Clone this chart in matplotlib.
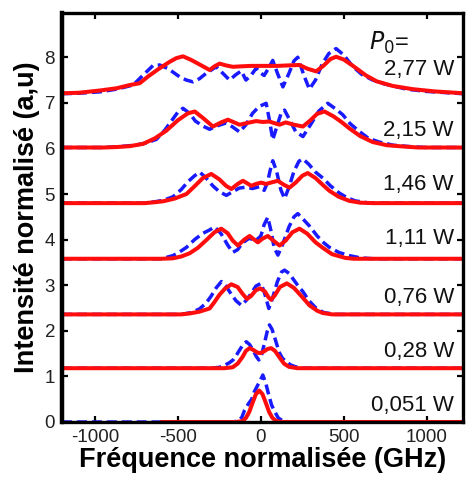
import matplotlib
matplotlib.use("Agg")
import matplotlib.pyplot as plt

plt.rcParams['font.family'] = ['Liberation Sans', 'DejaVu Sans']
plt.rcParams['axes.unicode_minus'] = False

# ---- data (relative intensity above each trace baseline) ----
power_labels = ["0,051 W", "0,28 W", "0,76 W", "1,11 W", "1,46 W", "2,15 W", "2,77 W"]
offsets = [0.0, 1.18, 2.36, 3.58, 4.80, 6.02, 7.20]
label_y = [0.37, 1.54, 2.74, 4.03, 5.20, 6.40, 7.72]

# 0,051 W
red_f_a = [-600, -150, -130, -110, -90, -70, -50, -30, -10, 10, 30, 50, 70, 90, 110, 130, 150, 1220]
red_v_a = [0, 0, 0.01, 0.02, 0.09, 0.22, 0.42, 0.61, 0.69, 0.61, 0.42, 0.22, 0.09, 0.03, 0.01, 0, 0, 0]
blue_f_a = [-1200, -170, -140, -115, -98, -75, -55, -40, -20, -5, 12, 30, 45, 65, 85, 105, 130, 170, 1220]
blue_v_a = [0, 0, 0.02, 0.1, 0.26, 0.4, 0.5, 0.66, 0.8, 0.9, 1.03, 0.85, 0.63, 0.37, 0.22, 0.09, 0.03, 0, 0]

# 0,28 W
red_f_b = [-1200, -220, -170, -140, -110, -90, -68, -45, -20, -4, 15, 40, 62, 85, 110, 140, 170, 220, 1220]
red_v_b = [0, 0, 0.02, 0.1, 0.25, 0.38, 0.44, 0.4, 0.34, 0.33, 0.36, 0.42, 0.44, 0.38, 0.25, 0.1, 0.03, 0, 0]
blue_f_b = [-1200, -300, -250, -220, -190, -168, -150, -128, -105, -88, -68, -48, -28, -12, 5, 22, 38, 52,
            68, 82, 98, 113, 130, 153, 180, 210, 260, 1220]
blue_v_b = [0, 0, 0.02, 0.06, 0.12, 0.18, 0.27, 0.4, 0.53, 0.58, 0.52, 0.4, 0.26, 0.18, 0.3, 0.55, 0.8, 0.95,
            0.85, 0.69, 0.5, 0.33, 0.22, 0.14, 0.07, 0.03, 0, 0]

# 0,76 W
red_f_c = [-1200, -480, -430, -370, -309, -280, -250, -215, -178, -140, -110, -84, -60, -30, -4, 25, 45, 62,
           85, 115, 157, 200, 250, 293, 340, 374, 430, 1220]
red_v_c = [0, 0, 0.02, 0.06, 0.13, 0.27, 0.43, 0.57, 0.66, 0.6, 0.45, 0.34, 0.4, 0.53, 0.57, 0.5, 0.38, 0.32,
           0.42, 0.6, 0.68, 0.58, 0.38, 0.2, 0.08, 0.03, 0, 0]
blue_f_c = [-1200, -480, -420, -370, -330, -300, -270, -238, -210, -180, -150, -118, -90, -60, -30, 0, 20, 48,
            70, 100, 125, 143, 170, 200, 230, 254, 290, 335, 380, 450, 1220]
blue_v_c = [0, 0, 0.04, 0.12, 0.25, 0.4, 0.58, 0.72, 0.62, 0.45, 0.3, 0.2, 0.3, 0.45, 0.62, 0.68, 0.5, 0.13,
            0.35, 0.72, 0.93, 0.97, 0.9, 0.75, 0.6, 0.5, 0.3, 0.13, 0.04, 0, 0]

# 1,11 W
red_f_d = [-1200, -600, -530, -480, -430, -380, -329, -280, -239, -200, -170, -138, -100, -68, -40, -18, 10,
           42, 75, 113, 150, 190, 233, 280, 330, 374, 430, 508, 560, 1220]
red_v_d = [0, 0, 0.01, 0.05, 0.12, 0.24, 0.41, 0.58, 0.66, 0.56, 0.4, 0.29, 0.42, 0.5, 0.42, 0.36, 0.44,
           0.5, 0.4, 0.29, 0.4, 0.58, 0.66, 0.55, 0.36, 0.24, 0.1, 0.02, 0, 0]
blue_f_d = [-1200, -600, -530, -490, -449, -400, -349, -310, -279, -240, -200, -169, -140, -110, -70, -30, 0,
            20, 42, 62, 80, 103, 130, 170, 200, 223, 260, 293, 340, 380, 414, 470, 534, 600, 680, 1220]
blue_v_d = [0, 0, 0.07, 0.15, 0.25, 0.42, 0.56, 0.63, 0.7, 0.55, 0.3, 0.14, 0.2, 0.35, 0.45, 0.4, 0.5,
            0.75, 0.91, 0.6, 0.25, 0.08, 0.3, 0.7, 0.92, 0.99, 0.85, 0.72, 0.5, 0.35, 0.25, 0.14, 0.07, 0.02, 0, 0]

# 1,46 W
red_f_e = [-1200, -700, -640, -590, -520, -449, -400, -350, -299, -250, -210, -178, -140, -108, -80, -58, -30,
           2, 30, 60, 102, 140, 173, 210, 250, 283, 330, 374, 414, 470, 534, 600, 680, 1220]
red_v_e = [0, 0, 0.02, 0.04, 0.1, 0.2, 0.37, 0.55, 0.64, 0.52, 0.38, 0.31, 0.42, 0.49, 0.43, 0.38, 0.42,
           0.45, 0.42, 0.45, 0.49, 0.4, 0.34, 0.45, 0.6, 0.66, 0.55, 0.4, 0.27, 0.14, 0.05, 0.01, 0, 0]
blue_f_e = [-1200, -700, -640, -590, -530, -480, -440, -400, -369, -330, -290, -250, -208, -170, -130, -90,
            -50, -10, 20, 40, 55, 72, 95, 120, 143, 170, 200, 230, 254, 290, 330, 374, 420, 474, 520, 570,
            640, 720, 1220]
blue_v_e = [0, 0, 0.03, 0.06, 0.14, 0.3, 0.47, 0.6, 0.68, 0.55, 0.38, 0.25, 0.17, 0.25, 0.33, 0.35,
            0.32, 0.36, 0.28, 0.45, 0.7, 0.93, 0.7, 0.3, 0.1, 0.35, 0.7, 0.92, 0.97, 0.85, 0.68, 0.55, 0.38,
            0.22, 0.12, 0.05, 0.01, 0, 0]

# 2,15 W
red_f_f = [-1200, -950, -870, -790, -711, -640, -570, -500, -440, -399, -350, -289, -240, -199, -160, -128,
           -80, -28, 10, 52, 85, 113, 150, 200, 254, 300, 340, 384, 440, 490, 534, 600, 675, 760, 867, 950, 1220]
red_v_f = [0, 0, 0.01, 0.03, 0.08, 0.2, 0.37, 0.6, 0.75, 0.79, 0.65, 0.46, 0.55, 0.61, 0.55, 0.5,
           0.54, 0.58, 0.56, 0.57, 0.53, 0.5, 0.55, 0.5, 0.46, 0.6, 0.74, 0.79, 0.68, 0.55, 0.42, 0.25,
           0.12, 0.05, 0.02, 0, 0]
blue_f_f = [-1200, -950, -850, -760, -690, -630, -580, -540, -500, -470, -430, -395, -350, -309, -260, -208,
            -170, -128, -90, -50, -10, 32, 52, 72, 100, 125, 143, 175, 210, 254, 300, 350, 404, 450, 494,
            540, 595, 650, 715, 800, 900, 1000, 1220]
blue_v_f = [0, 0, 0.02, 0.05, 0.1, 0.18, 0.38, 0.58, 0.78, 0.86, 0.75, 0.58, 0.47, 0.4, 0.48, 0.54,
            0.45, 0.34, 0.5, 0.75, 0.9, 0.97, 0.6, 0.17, 0.5, 0.78, 0.82, 0.6, 0.35, 0.24, 0.5, 0.8, 0.97,
            0.85, 0.72, 0.52, 0.35, 0.2, 0.12, 0.05, 0.02, 0, 0]

# 2,77 W
red_f_g = [-1200, -1100, -972, -870, -791, -731, -680, -610, -550, -510, -470, -420, -349, -309, -280, -249,
           -210, -169, -120, -60, 32, 100, 160, 233, 280, 334, 380, 420, 454, 500, 560, 635, 700, 796, 916,
           1050, 1220]
red_v_g = [0.01, 0.02, 0.07, 0.12, 0.19, 0.23, 0.38, 0.56, 0.7, 0.78, 0.82, 0.74, 0.6, 0.52, 0.6, 0.66,
           0.62, 0.59, 0.6, 0.61, 0.61, 0.61, 0.62, 0.63, 0.55, 0.49, 0.62, 0.76, 0.81, 0.75, 0.6, 0.4,
           0.27, 0.17, 0.1, 0.05, 0.01]
blue_f_g = [-1200, -1100, -972, -870, -771, -690, -650, -610, -560, -490, -450, -410, -370, -329, -269, -230,
            -189, -150, -118, -90, -60, -28, 0, 20, 45, 72, 100, 133, 170, 200, 223, 260, 293, 330, 370, 410,
            454, 500, 554, 610, 675, 740, 796, 880, 1000, 1220]
blue_v_g = [0, 0.01, 0.04, 0.1, 0.19, 0.48, 0.62, 0.63, 0.55, 0.37, 0.3, 0.26, 0.33, 0.45, 0.59, 0.45,
            0.3, 0.42, 0.5, 0.3, 0.4, 0.56, 0.45, 0.4, 0.55, 0.73, 0.45, 0.15, 0.45, 0.72, 0.8, 0.4, 0.1,
            0.3, 0.65, 0.88, 0.99, 0.85, 0.6, 0.42, 0.3, 0.22, 0.17, 0.1, 0.05, 0]

red_f = [red_f_a, red_f_b, red_f_c, red_f_d, red_f_e, red_f_f, red_f_g]
red_v = [red_v_a, red_v_b, red_v_c, red_v_d, red_v_e, red_v_f, red_v_g]
blue_f = [blue_f_a, blue_f_b, blue_f_c, blue_f_d, blue_f_e, blue_f_f, blue_f_g]
blue_v = [blue_v_a, blue_v_b, blue_v_c, blue_v_d, blue_v_e, blue_v_f, blue_v_g]

x_ticks = [-1000, -500, 0, 500, 1000]
y_ticks = [0, 1, 2, 3, 4, 5, 6, 7, 8]

# ---- figure ----
fig = plt.figure(figsize=(4.66, 4.83), dpi=100)
ax = fig.add_axes([62 / 466, 1 - 422 / 483, 401 / 466, 409 / 483])

for i in range(len(offsets)):
    by = [v + offsets[i] for v in blue_v[i]]
    ry = [v + offsets[i] for v in red_v[i]]
    ax.plot(blue_f[i], by, color='#1a1aff', lw=2.5, dashes=(2.9, 1.4),
            solid_joinstyle='round', dash_joinstyle='round', zorder=2)
    ax.plot(red_f[i], ry, color='#ff0d0d', lw=2.9, solid_joinstyle='round',
            solid_capstyle='round', zorder=2.1)
    ax.text(1165, label_y[i], power_labels[i], ha='right', va='center', fontsize=16, color='#111111')

ax.text(655, 8.31, r'$P_0$=', ha='left', va='center', fontsize=17, color='#111111')

ax.set_xlim(-1200, 1220)
ax.set_ylim(0, 8.97)
ax.set_xticks(x_ticks)
ax.set_yticks(y_ticks)
ax.tick_params(direction='in', length=4, width=1.6, top=True, right=True, labelsize=13.5,
               labelcolor='#222222', pad=5)
for s in ax.spines.values():
    s.set_linewidth(2.4)
ax.spines['left'].set_linewidth(3.2)

ax.set_xlabel('Fréquence normalisée (GHz)', fontsize=19.5, fontweight='bold', labelpad=1)
ax.set_ylabel('Intensité normalisé (a,u)', fontsize=19.5, fontweight='bold', labelpad=3)

fig.savefig('out.png', dpi=100)
